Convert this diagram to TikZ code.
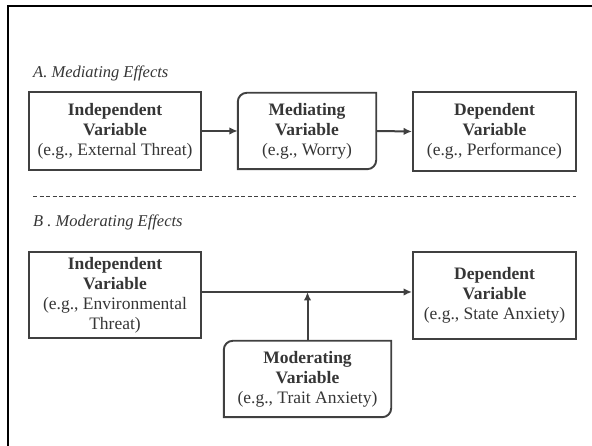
\documentclass[tikz,border=0pt]{standalone}
\usepackage{fontspec}
\setmainfont{Liberation Serif}
\usetikzlibrary{arrows.meta,calc}
\definecolor{ink}{HTML}{363636}
\definecolor{edge}{HTML}{404040}
\begin{document}
\begin{tikzpicture}[x=1pt,y=1pt,
  boxtext/.style={font=\fontsize{17.5}{20}\selectfont, text=ink, align=center, inner sep=0pt},
  sqbox/.style={boxtext, draw=edge, line width=1.9pt},
  rbox/.style={boxtext},
  conn/.style={draw=edge, line width=2pt, -{Latex[length=8.5pt,width=7.5pt]}},
  seclabel/.style={font=\fontsize{16.5}{18}\selectfont\itshape, text=ink, anchor=west, inner sep=0pt}
]
\useasboundingbox (0,0) rectangle (592,446);
% outer frame (top and left edges)
\draw[line width=2.2pt, black] (8,0) -- (8,440) -- (592,440);

% ---------- A ----------
\node[seclabel] (la) at (33,373) {A. Mediating Effects};
\node[sqbox, minimum width=172pt, minimum height=78pt] (iva) at (115,315)
  {{\bfseries Independent}\\{\bfseries Variable}\\(e.g., External Threat)};
\node[rbox, minimum width=138pt, minimum height=76pt] (mv) at (307,315)
  {{\bfseries Mediating}\\{\bfseries Variable}\\(e.g., Worry)};
\draw[draw=edge, line width=1.9pt] (mv.south west) -- ([yshift=-9pt]mv.north west)
  arc[start angle=180, end angle=90, radius=9pt] -- (mv.north east)
  -- ([yshift=9pt]mv.south east) arc[start angle=0, end angle=-90, radius=9pt] -- cycle;
\node[sqbox, minimum width=163pt, minimum height=79pt] (dva) at (494.5,314.5)
  {{\bfseries Dependent}\\{\bfseries Variable}\\(e.g., Performance)};
\draw[conn] (iva.east) -- (mv.west);
\draw[conn] (mv.east) -- (dva.west);

% separator
\draw[draw=edge, line width=0.9pt, dash pattern=on 4pt off 2.5pt] (33,250) -- (576,250);

% ---------- B ----------
\node[seclabel] (lb) at (33,224) {B . Moderating Effects};
\node[sqbox, minimum width=172pt, minimum height=86pt] (ivb) at (115,151)
  {{\bfseries Independent}\\{\bfseries Variable}\\(e.g., Environmental\\Threat)};
\node[sqbox, minimum width=163pt, minimum height=87pt] (dvb) at (494.5,150.5)
  {{\bfseries Dependent}\\{\bfseries Variable}\\(e.g., State Anxiety)};
\node[rbox, minimum width=167pt, minimum height=76pt] (mod) at (307.5,67)
  {{\bfseries Moderating}\\{\bfseries Variable}\\(e.g., Trait Anxiety)};
\draw[draw=edge, line width=1.9pt] (mod.south west) -- ([yshift=-9pt]mod.north west)
  arc[start angle=180, end angle=90, radius=9pt] -- (mod.north east)
  -- ([yshift=9pt]mod.south east) arc[start angle=0, end angle=-90, radius=9pt] -- cycle;
\coordinate (j) at (307.5,154);
\draw[conn] (ivb.east |- j) -- (dvb.west |- j);
\draw[conn] (mod.north) -- (j);
\end{tikzpicture}
\end{document}
